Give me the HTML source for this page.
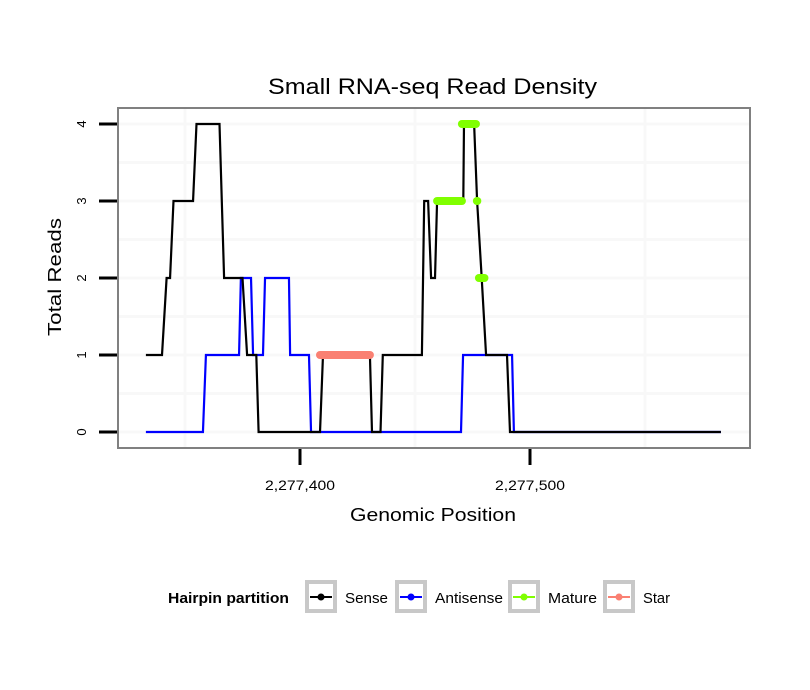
<!DOCTYPE html>
<html><head><meta charset="utf-8"><style>
body{margin:0;background:#fff;}
svg{display:block;font-family:"Liberation Sans",sans-serif;}
</style></head><body>
<svg id="chart" width="810" height="690">
<rect width="810" height="690" fill="#fff"/>
<g id="grid"></g>
<g id="series"></g>
<rect x="118" y="108" width="632" height="340" fill="none" stroke="#808080" stroke-width="2"/>
<g id="axes"></g>
<text x="268" y="94" font-size="22" textLength="329" lengthAdjust="spacingAndGlyphs">Small RNA-seq Read Density</text>
<text x="350" y="521" font-size="18" textLength="166" lengthAdjust="spacingAndGlyphs">Genomic Position</text>
<text transform="translate(61,336) rotate(-90)" font-size="18" textLength="118" lengthAdjust="spacingAndGlyphs">Total Reads</text>
<g id="legend">
<text x="168" y="603" font-size="15" font-weight="bold" textLength="121" lengthAdjust="spacingAndGlyphs">Hairpin partition</text>
</g>
</svg>
<script>
const xTicks=[2277400,2277500];
const xTickLabels=["2,277,400","2,277,500"];
const yTicks=[0,1,2,3,4];
const xGrid=[2277350,2277450,2277550];
const yGrid=[0.5,1.5,2.5,3.5];
const senseX=[2277333,2277340,2277342,2277343.5,2277345,2277353.5,2277355,2277365,2277367,2277375,2277377,2277381,2277382,2277408.7,2277410,2277430.4,2277431.3,2277435,2277436,2277453,2277454,2277455.7,2277457,2277458.7,2277459.6,2277471,2277471.3,2277475.7,2277477,2277479,2277480.9,2277490,2277491.3,2277583];
const senseY=[1,1,2,2,3,3,4,4,2,2,1,1,0,0,1,1,0,0,1,1,3,3,2,2,3,3,4,4,3,2,1,1,0,0];
const antiX=[2277333,2277357.8,2277359.1,2277373.5,2277374.3,2277378.7,2277379.6,2277383.9,2277384.8,2277395.2,2277395.7,2277403.9,2277404.8,2277470,2277470.9,2277492.2,2277493,2277583];
const antiY=[0,0,1,1,2,2,1,1,2,2,1,1,0,0,1,1,0,0];
const matureStart=[2277459.6,2277470.4,2277476.9,2277477.8];
const matureEnd=[2277470.4,2277476.5,2277477.1,2277480.2];
const matureVal=[3,4,3,2];
const starStart=[2277408.7];
const starEnd=[2277430.4];
const starVal=[1];
const legendLabels=["Sense","Antisense","Mature","Star"];
const legendColors=["#000000","#0000ff","#80ff00","#fa8072"];
const legendWidths=[43,68,49,27];

const NS="http://www.w3.org/2000/svg";
function xs(v){return 300+(v-2277400)*2.3;}
function ys(v){return 432-v*77;}
function mk(tag,attrs,parent){const e=document.createElementNS(NS,tag);for(const k in attrs)e.setAttribute(k,attrs[k]);parent.appendChild(e);return e;}
const grid=document.getElementById('grid'),series=document.getElementById('series'),axes=document.getElementById('axes'),legend=document.getElementById('legend');
xGrid.forEach(g=>{const l=mk('line',{x1:xs(g),x2:xs(g),y1:108,y2:448,stroke:'#f8f8f8','stroke-width':3},grid);

});
yTicks.forEach(g=>{const l=mk('line',{x1:118,x2:750,y1:ys(g),y2:ys(g),stroke:'#f8f8f8','stroke-width':3},grid);

});
yGrid.forEach(g=>{const l=mk('line',{x1:118,x2:750,y1:ys(g),y2:ys(g),stroke:'#f8f8f8','stroke-width':3},grid);

});
function poly(X,Y,color,name){const p=mk('polyline',{points:X.map((x,i)=>xs(x)+','+ys(Y[i])).join(' '),fill:'none',stroke:color,'stroke-width':2.2,'stroke-linejoin':'miter'},series);

}
poly(antiX,antiY,'#0000ff','antisense-line');
poly(senseX,senseY,'#000000','sense-line');
function segs(S,E,V,color,name){S.forEach((s,i)=>{const l=mk('line',{x1:xs(s),x2:xs(E[i]),y1:ys(V[i]),y2:ys(V[i]),stroke:color,'stroke-width':8,'stroke-linecap':'round'},series);

});}
segs(matureStart,matureEnd,matureVal,'#80ff00','mature-segment');
segs(starStart,starEnd,starVal,'#fa8072','star-segment');
yTicks.forEach(t=>{const l=mk('line',{x1:99,x2:117,y1:ys(t),y2:ys(t),stroke:'#000','stroke-width':3},axes);


const tx=mk('text',{transform:'translate(86,'+ys(t)+') rotate(-90)','font-size':13,'text-anchor':'middle'},axes);tx.textContent=t;

});
xTicks.forEach((t,i)=>{const l=mk('line',{x1:xs(t),x2:xs(t),y1:449,y2:465,stroke:'#000','stroke-width':3},axes);


const tx=mk('text',{x:xs(t)-35,y:490,'font-size':14,textLength:70,lengthAdjust:'spacingAndGlyphs'},axes);tx.textContent=xTickLabels[i];

});
const boxX=[305,395,508,603];
legendLabels.forEach((lab,i)=>{const g=mk('g',{},legend);


const bx=boxX[i];
mk('rect',{x:bx+2,y:582,width:28,height:29,fill:'#fff',stroke:'#c8c8c8','stroke-width':4},g);
mk('line',{x1:bx+5,x2:bx+27,y1:597,y2:597,stroke:legendColors[i],'stroke-width':2},g);
mk('circle',{cx:bx+16,cy:597,r:3.5,fill:legendColors[i]},g);
const tx=mk('text',{x:bx+40,y:603,'font-size':15,textLength:legendWidths[i],lengthAdjust:'spacingAndGlyphs'},g);tx.textContent=lab;});
</script>
</body></html>
